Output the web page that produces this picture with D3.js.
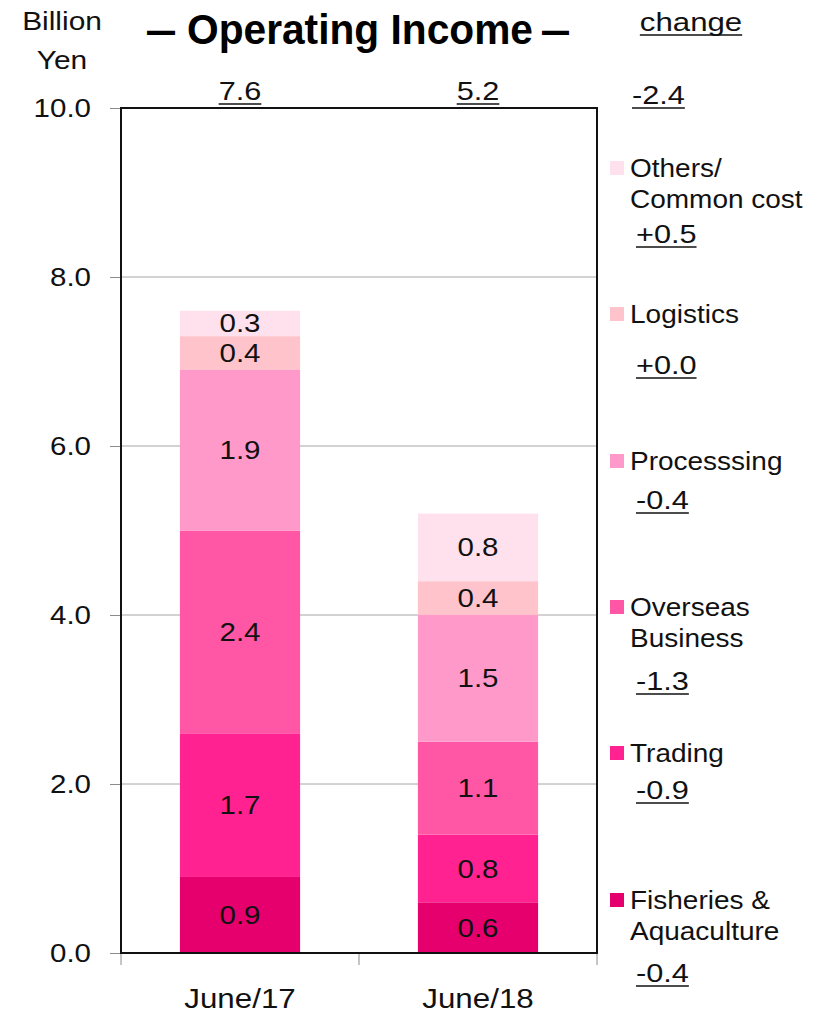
<!DOCTYPE html>
<html>
<head>
<meta charset="utf-8">
<script src="https://cdn.jsdelivr.net/npm/d3@7"></script>
<style>
  html, body { margin: 0; padding: 0; background: #fff; }
  svg { display: block; font-family: "Liberation Sans", Arial, sans-serif; }
</style>
</head>
<body>
<svg id="chart" width="819" height="1013"></svg>
<script>
// Operating income by segment, billion yen
const periods = ["June/17", "June/18"];
const segments = ["Fisheries & Aquaculture", "Trading", "Overseas Business", "Processsing", "Logistics", "Others/ Common cost"];
const legendLines = [["Fisheries &", "Aquaculture"], ["Trading"], ["Overseas", "Business"], ["Processsing"], ["Logistics"], ["Others/", "Common cost"]];
const june17 = [0.9, 1.7, 2.4, 1.9, 0.4, 0.3];
const june18 = [0.6, 0.8, 1.1, 1.5, 0.4, 0.8];
const totals = [7.6, 5.2];
const totalChange = "-2.4";
const changes = ["-0.4", "-0.9", "-1.3", "-0.4", "+0.0", "+0.5"];
const colors = ["#E5006E", "#FF2290", "#FF56A6", "#FF99C9", "#FFC3CC", "#FFE1EE"];
const yTicks = [0, 2, 4, 6, 8, 10];

const svg = d3.select("#chart");
const plotL = 121, plotR = 597, plotT = 108, plotB = 953;
const SX = 1.18; // horizontal text widening used throughout the figure

const x = d3.scaleBand().domain(periods).range([plotL, plotR]).paddingInner(0.495).paddingOuter(0.2475);
const y = d3.scaleLinear().domain([0, 10]).range([plotB, plotT]);

// text placed at (tx, ty), widened horizontally by sx
function wideText(g, tx, ty, txt, size, anchor, sx) {
  return g.append("text")
    .attr("transform", `translate(${tx},${ty}) scale(${sx},1)`)
    .attr("font-size", size).attr("fill", "#111")
    .attr("text-anchor", anchor).text(txt);
}

// widened text with a rule underneath
function underlined(g, tx, ty, txt, size, anchor, sx) {
  const t = wideText(g, tx, ty, txt, size, anchor, sx);
  const bb = t.node().getBBox();
  g.append("line")
    .attr("x1", tx + bb.x * sx).attr("x2", tx + (bb.x + bb.width) * sx)
    .attr("y1", ty + 4).attr("y2", ty + 4)
    .attr("stroke", "#111").attr("stroke-width", 1.5);
  return t;
}

// gridlines
svg.append("g").selectAll("line").data(yTicks.filter(t => t > 0 && t < 10)).join("line")
  .attr("x1", plotL).attr("x2", plotR)
  .attr("y1", d => y(d)).attr("y2", d => y(d))
  .attr("stroke", "#a6a6a6").attr("stroke-width", 1);

// stacked bars
const rows = periods.map((p, i) => {
  const r = { period: p };
  const vals = i === 0 ? june17 : june18;
  segments.forEach((s, j) => r[s] = vals[j]);
  return r;
});
const stack = d3.stack().keys(segments)(rows);

const layers = svg.append("g").selectAll("g").data(stack).join("g")
  .attr("fill", (d, i) => colors[i]);
layers.selectAll("rect").data(d => d).join("rect")
  .attr("x", d => x(d.data.period))
  .attr("width", x.bandwidth())
  .attr("y", d => y(d[1]))
  .attr("height", d => y(d[0]) - y(d[1]));

// segment value labels
const labels = svg.append("g");
stack.forEach(layer => {
  layer.forEach(d => {
    wideText(labels, x(d.data.period) + x.bandwidth() / 2, (y(d[0]) + y(d[1])) / 2 + 9,
      d3.format(".1f")(d[1] - d[0]), 25, "middle", SX);
  });
});

// y axis
const tickOffset = 30;
const yAxis = svg.append("g").attr("transform", `translate(${plotL},0)`)
  .call(d3.axisLeft(y).tickValues(yTicks).tickFormat(d3.format(".1f")).tickSize(11));
yAxis.select(".domain").remove();
yAxis.selectAll(".tick line").attr("stroke", "#8c8c8c");
yAxis.selectAll(".tick text")
  .attr("font-size", 25).attr("fill", "#111")
  .attr("font-family", "Liberation Sans, Arial, sans-serif")
  .attr("x", -tickOffset / SX)
  .attr("transform", `scale(${SX},1)`);

// x axis, ticks between categories
const bounds = [plotL, (plotL + plotR) / 2, plotR];
svg.append("g").selectAll("line").data(bounds).join("line")
  .attr("x1", d => d).attr("x2", d => d)
  .attr("y1", plotB).attr("y2", plotB + 12)
  .attr("stroke", "#8c8c8c");
const xLab = svg.append("g");
periods.forEach(p => wideText(xLab, x(p) + x.bandwidth() / 2, 1008, p, 27, "middle", 1.16));

// plot frame
svg.append("rect")
  .attr("x", plotL).attr("y", plotT)
  .attr("width", plotR - plotL).attr("height", plotB - plotT)
  .attr("fill", "none").attr("stroke", "#111").attr("stroke-width", 2);

const ann = svg.append("g");

// totals above bars
periods.forEach((p, i) => {
  underlined(ann, x(p) + x.bandwidth() / 2, 100, d3.format(".1f")(totals[i]), 26, "middle", SX);
});
underlined(ann, 632, 104, totalChange, 26, "start", SX);

// header texts
wideText(ann, 62, 30, "Billion", 26, "middle", 1.15);
wideText(ann, 62, 69, "Yen", 26, "middle", 1.15);
underlined(ann, 691, 31, "change", 26, "middle", 1.2);

// title with short dashes on both sides
const titleFont = "'Liberation Sans Narrow', 'Arial Narrow', 'Liberation Sans', sans-serif";
const title = ann.append("g").attr("font-family", titleFont).attr("font-weight", "bold").attr("fill", "#000");
title.append("text").attr("x", 147).attr("y", 44).attr("font-size", 42)
  .attr("textLength", 28).attr("lengthAdjust", "spacingAndGlyphs").text("\u2014");
title.append("text").attr("x", 187).attr("y", 44).attr("font-size", 42)
  .attr("textLength", 346).attr("lengthAdjust", "spacingAndGlyphs").text("Operating Income");
title.append("text").attr("x", 542).attr("y", 44).attr("font-size", 42)
  .attr("textLength", 27).attr("lengthAdjust", "spacingAndGlyphs").text("\u2014");

// legend with change values
const legendY = [900, 753, 607, 461, 314, 168];
const changeY = [982, 799, 690, 509, 374, 243];
const leg = svg.append("g");
segments.forEach((s, i) => {
  const ty = legendY[i];
  leg.append("rect").attr("x", 610).attr("y", ty - 7).attr("width", 14).attr("height", 14)
    .attr("fill", colors[i]);
  legendLines[i].forEach((line, k) => {
    wideText(leg, 630, ty + 9 + k * 31, line, 25, "start", 1.12);
  });
  underlined(leg, 636, changeY[i], changes[i], 26, "start", SX);
});
</script>
</body>
</html>
